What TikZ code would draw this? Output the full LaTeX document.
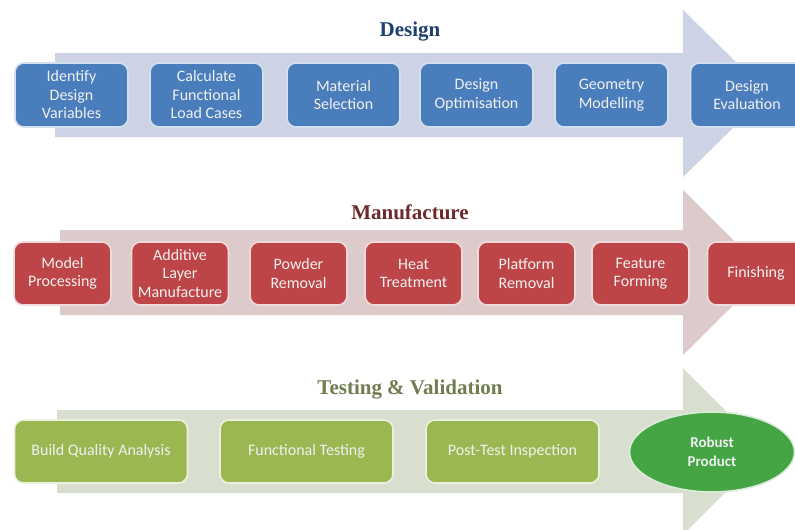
\documentclass[tikz,border=0pt]{standalone}
\usepackage{fontspec}
\setmainfont{Carlito}
\newfontfamily\titlefont{Liberation Serif}
\usetikzlibrary{shapes.geometric}
\definecolor{dbox}{HTML}{4A7DBB}
\definecolor{darrow}{HTML}{CDD3E4}
\definecolor{dtitle}{HTML}{1F3F6F}
\definecolor{mbox}{HTML}{BE4547}
\definecolor{marrow}{HTML}{DDCACB}
\definecolor{mtitle}{HTML}{6E2A2A}
\definecolor{tbox}{HTML}{9BB752}
\definecolor{tarrow}{HTML}{D9DFCF}
\definecolor{ttitle}{HTML}{717D50}
\definecolor{robust}{HTML}{45A443}
\tikzset{
  x=1pt, y=-1pt,
  stagebox/.style={rounded corners=9pt, line width=1.6pt, align=center,
    text=white!94!black, font=\fontsize{16}{18.5}\selectfont, inner sep=1pt},
  dstage/.style={stagebox, fill=dbox, draw=dbox!25!white, minimum width=113pt, minimum height=64pt},
  mstage/.style={stagebox, fill=mbox, draw=mbox!20!white, minimum width=97pt, minimum height=63pt},
  tstage/.style={stagebox, fill=tbox, draw=tbox!20!white, minimum width=173pt, minimum height=63pt},
  phasetitle/.style={font=\titlefont\bfseries\fontsize{21}{24}\selectfont}
}
\begin{document}
\begin{tikzpicture}
\useasboundingbox (0,0) rectangle (795,530);
\clip (0,0) rectangle (795,530);
\fill[white] (0,0) rectangle (795,530);
% arrows
\fill[darrow] (55,53) -- (683,53) -- (683,10) -- (768,93.5) -- (683,177) -- (683,137) -- (55,137) -- cycle;
\fill[marrow] (60,230) -- (683,230) -- (683,190) -- (766,272.5) -- (683,355) -- (683,315) -- (60,315) -- cycle;
\fill[tarrow] (57,410) -- (683,410) -- (683,368) -- (766,451.5) -- (683,535) -- (683,493) -- (57,493) -- cycle;
% titles
\node[phasetitle, text=dtitle] (tdesign) at (410,32) {Design};
\node[phasetitle, text=mtitle] (tmanu) at (410,212) {Manufacture};
\node[phasetitle, text=ttitle] (ttest) at (410,390) {Testing \& Validation};
% design
\node[dstage] (d1) at (71.5,95) {Identify\\Design\\Variables};
\node[dstage] (d2) at (206.5,95) {Calculate\\Functional\\Load Cases};
\node[dstage] (d3) at (343.5,95) {Material\\Selection};
\node[dstage] (d4) at (476.5,95) {Design\\Optimisation};
\node[dstage] (d5) at (611.5,95) {Geometry\\Modelling};
\node[dstage] (d6) at (747,95) {Design\\Evaluation};
% manufacture
\node[mstage] (m1) at (62.5,273.5) {Model\\Processing};
\node[mstage] (m2) at (180,273.5) {Additive\\Layer\\Manufacture};
\node[mstage] (m3) at (298.5,273.5) {Powder\\Removal};
\node[mstage] (m4) at (413.5,273.5) {Heat\\Treatment};
\node[mstage] (m5) at (526.5,273.5) {Platform\\Removal};
\node[mstage] (m6) at (640.5,273.5) {Feature\\Forming};
\node[mstage] (m7) at (756,273.5) {Finishing};
% testing
\node[tstage] (t1) at (101,451.5) {Build Quality Analysis};
\node[tstage] (t2) at (306.5,451.5) {Functional Testing};
\node[tstage] (t3) at (512.5,451.5) {Post-Test Inspection};
\node[ellipse, fill=robust, draw=robust!20!white, line width=1.6pt, minimum width=165pt, minimum height=80pt,
  align=center, text=white!94!black, font=\bfseries\fontsize{15}{18.5}\selectfont, inner sep=0pt] (rp) at (712,452) {Robust\\Product};
\end{tikzpicture}
\end{document}
